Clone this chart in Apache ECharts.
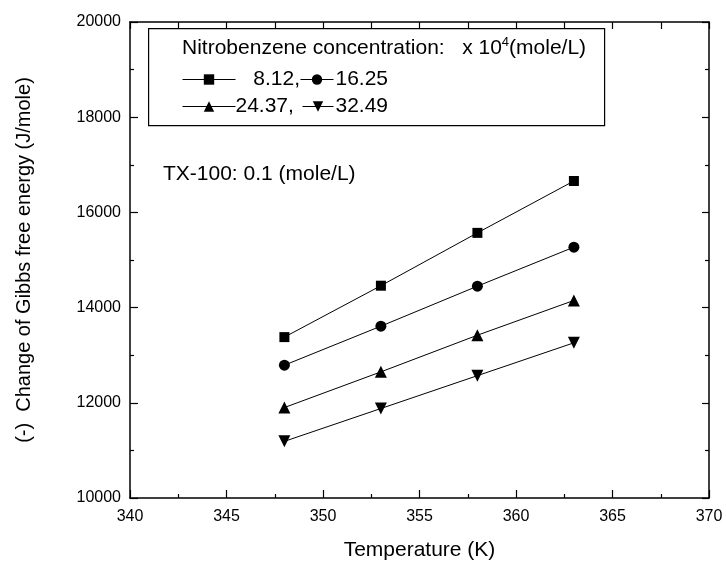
<!DOCTYPE html>
<html><head><meta charset="utf-8">
<script src="https://cdn.jsdelivr.net/npm/echarts@6/dist/echarts.min.js"></script>
<style>html,body{margin:0;padding:0;background:#fff}#c{width:726px;height:566px}</style>
</head><body><div id="c"></div>
<script>
const temperatures = [348, 353, 358, 363];
const seriesNames = ['8.12', '16.25', '24.37', '32.49'];
const values812 = [13380, 14460, 15570, 16660];
const values1625 = [12790, 13610, 14450, 15270];
const values2437 = [11900, 12650, 13420, 14150];
const values3249 = [11190, 11880, 12570, 13260];
const xTicks = [340, 345, 350, 355, 360, 365, 370];
const yTicks = [10000, 12000, 14000, 16000, 18000, 20000];
const symbols = ['rect', 'circle', 'triangle', 'path://M0,0 L10,0 L5,9 Z'];
const allValues = [values812, values1625, values2437, values3249];

const FONT = 'Liberation Sans, Arial, sans-serif';
const chart = echarts.init(document.getElementById('c'));
const symSizes = [10, 11, 12, 12];
const series = seriesNames.map((n, i) => ({
  name: n, type: 'line',
  data: temperatures.map((t, j) => [t, allValues[i][j]]),
  symbol: symbols[i], symbolSize: symSizes[i],
  itemStyle: { color: '#000' },
  lineStyle: { color: '#000', width: 1 },
  showAllSymbol: true
}));
const mkLegend = (name, left, top, w, pad, txt) => ({
  data: [name], left: left, top: top, itemWidth: w, itemHeight: 13, padding: 0,
  formatter: () => txt,
  lineStyle: { width: 1 },
  textStyle: { color: '#000', fontSize: 21, fontFamily: FONT, padding: [0, 0, 0, pad] },
  selectedMode: false
});
chart.setOption({
  animation: false,
  backgroundColor: '#fff',
  grid: { left: 130, right: 17, top: 22, bottom: 67 },
  xAxis: [{
    type: 'value', min: xTicks[0], max: xTicks[xTicks.length - 1], interval: xTicks[1] - xTicks[0],
    name: 'Temperature (K)', nameLocation: 'middle', nameGap: 42,
    nameTextStyle: { color: '#000', fontSize: 21, fontFamily: FONT },
    axisLine: { lineStyle: { color: '#000', width: 1.5 } },
    axisTick: { inside: true, length: 8, lineStyle: { color: '#000', width: 1.2 } },
    minorTick: { show: true, splitNumber: 2, length: 4, lineStyle: { color: '#000', width: 1.2 } },
    axisLabel: { color: '#000', fontSize: 16, fontFamily: FONT, margin: 11 },
    splitLine: { show: false }
  }, {
    type: 'value', min: xTicks[0], max: xTicks[xTicks.length - 1], interval: xTicks[1] - xTicks[0], position: 'top',
    axisLine: { onZero: false, lineStyle: { color: '#000', width: 1.5 } },
    axisTick: { inside: true, length: 7, lineStyle: { color: '#000', width: 1.2 } },
    minorTick: { show: true, splitNumber: 2, length: 7, lineStyle: { color: '#000', width: 1.2 } },
    axisLabel: { show: false }, splitLine: { show: false }
  }],
  yAxis: [{
    type: 'value', min: yTicks[0], max: yTicks[yTicks.length - 1], interval: yTicks[1] - yTicks[0],
    name: '(-)  Change of Gibbs free energy (J/mole)', nameLocation: 'middle', nameGap: 96,
    nameTextStyle: { color: '#000', fontSize: 20, fontFamily: FONT },
    axisLine: { show: true, lineStyle: { color: '#000', width: 1.5 } },
    axisTick: { show: true, inside: true, length: 8, lineStyle: { color: '#000', width: 1.2 } },
    minorTick: { show: true, splitNumber: 2, length: 4, lineStyle: { color: '#000', width: 1.2 } },
    axisLabel: { color: '#000', fontSize: 16, fontFamily: FONT, margin: 9, formatter: v => String(v) },
    splitLine: { show: false }
  }, {
    type: 'value', min: yTicks[0], max: yTicks[yTicks.length - 1], interval: yTicks[1] - yTicks[0], position: 'right',
    axisLine: { show: true, onZero: false, lineStyle: { color: '#000', width: 1.5 } },
    axisTick: { show: true, inside: true, length: 7, lineStyle: { color: '#000', width: 1.2 } },
    minorTick: { show: true, splitNumber: 2, length: 4, lineStyle: { color: '#000', width: 1.2 } },
    axisLabel: { show: false }, splitLine: { show: false }
  }],
  legend: [
    mkLegend(seriesNames[0], 182, 69, 53, 7, ' ' + seriesNames[0] + ','),
    mkLegend(seriesNames[1], 300, 69, 33, -3, seriesNames[1]),
    mkLegend(seriesNames[2], 182, 96, 53, -5, seriesNames[2] + ','),
    mkLegend(seriesNames[3], 302, 96, 31, -3, seriesNames[3])
  ],
  graphic: [{
    type: 'rect', left: 148, top: 28, z: 0,
    shape: { width: 456, height: 97 },
    style: { fill: '#fff', stroke: '#000', lineWidth: 1.2 }
  }, {
    type: 'text', left: 182, top: 36, z: 10,
    style: {
      text: '{a|Nitrobenzene concentration:   x 10}{s|4}{a|(mole/L)}',
      rich: {
        a: { fontSize: 21, fontFamily: FONT, fill: '#000', verticalAlign: 'bottom' },
        s: { fontSize: 13, fontFamily: FONT, fill: '#000', verticalAlign: 'top', padding: [0, 0, 10, 0] }
      }
    }
  }, {
    type: 'text', left: 163, top: 164, z: 10,
    style: { text: 'TX-100: 0.1 (mole/L)', fontSize: 21, fontFamily: FONT, fill: '#000' }
  }],
  series: series
});
</script></body></html>
